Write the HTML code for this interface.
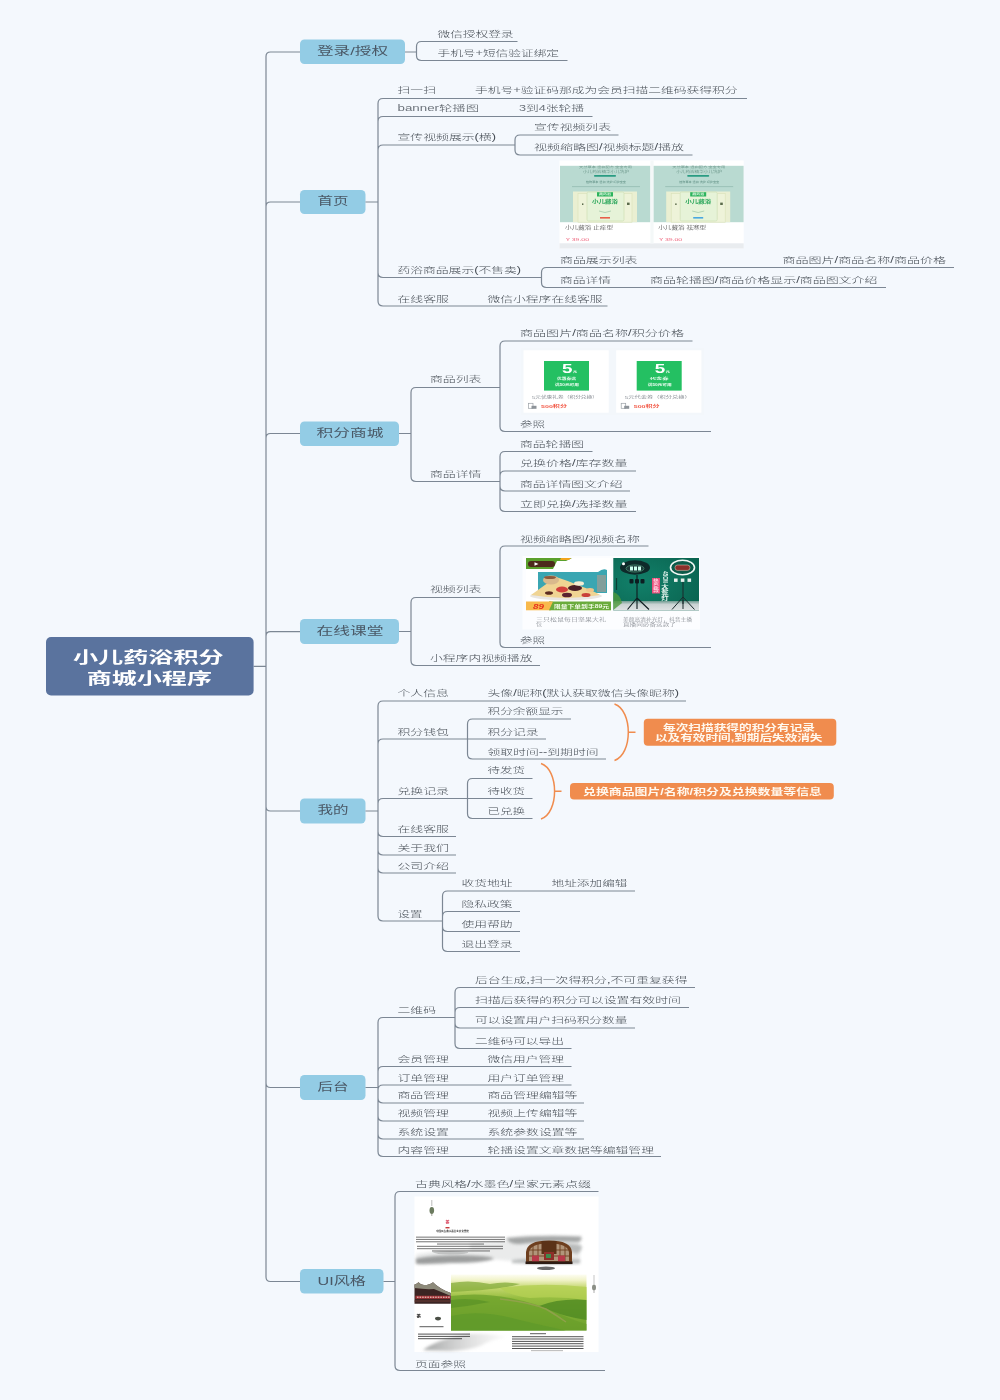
<!DOCTYPE html>
<html lang="zh-CN"><head><meta charset="utf-8"><title>小儿药浴积分商城小程序</title>
<style>
html,body{margin:0;padding:0;background:#f4f8fd;}
body{width:1000px;height:1400px;overflow:hidden;position:relative;}
svg{position:absolute;left:0;top:0;display:block;filter:blur(0.45px);}
text{font-family:"Liberation Sans","Noto Sans CJK SC",sans-serif;}
</style></head><body>
<svg width="1000" height="1400" viewBox="0 0 1000 1400">
<rect width="1000" height="1400" fill="#f4f8fd"/>
<path d="M253.6 666.3H266.0M266.0 666.3V56.5Q266.0 52.0 270.5 52.0H300.0M266.0 666.3V206.5Q266.0 202.0 270.5 202.0H300.0M266.0 666.3V438.0Q266.0 433.5 270.5 433.5H300.0M266.0 666.3V636.2Q266.0 631.7 270.5 631.7H300.0M266.0 666.3V806.5Q266.0 811.0 270.5 811.0H300.0M266.0 666.3V1083.0Q266.0 1087.5 270.5 1087.5H300.0M266.0 666.3V1277.0Q266.0 1281.5 270.5 1281.5H300.0" stroke="#7c8794" stroke-width="1.2" fill="none"/>
<rect x="46" y="637" width="207.6" height="58.5" rx="5" fill="#5a739e"/>
<text x="73.0" y="663.0" font-size="15.5" fill="#fff" font-weight="700" textLength="150.7" lengthAdjust="spacingAndGlyphs">小儿药浴积分</text>
<text x="86.7" y="683.8" font-size="15.5" fill="#fff" font-weight="700" textLength="125.3" lengthAdjust="spacingAndGlyphs">商城小程序</text>
<rect x="300" y="39.5" width="105" height="24.5" rx="4.5" fill="#93cce5"/>
<text x="317.0" y="55.0" font-size="11.2" fill="#4a5866" font-weight="400" textLength="71.0" lengthAdjust="spacingAndGlyphs">登录/授权</text>
<path d="M405.0 52.0H416.5M416.5 52.0V46.5Q416.5 41.5 421.5 41.5H517.5M416.5 52.0V55.5Q416.5 60.5 421.5 60.5H567.5" stroke="#7c8794" stroke-width="1.2" fill="none"/>
<text x="437.5" y="37.3" font-size="8.3" fill="#454c54" font-weight="300" textLength="76.0" lengthAdjust="spacingAndGlyphs">微信授权登录</text>
<text x="437.5" y="55.8" font-size="8.3" fill="#454c54" font-weight="300" textLength="121.5" lengthAdjust="spacingAndGlyphs">手机号<tspan fill="#6b727a">+</tspan>短信验证绑定</text>
<rect x="300" y="190" width="65.5" height="24" rx="4.5" fill="#93cce5"/>
<text x="317.5" y="205.3" font-size="11.2" fill="#4a5866" font-weight="400" textLength="31.0" lengthAdjust="spacingAndGlyphs">首页</text>
<path d="M365.5 202.0H378.0M378.0 202.0V103.5Q378.0 98.5 383.0 98.5H747.0M378.0 202.0V121.5Q378.0 116.5 383.0 116.5H592.5M378.0 202.0V150.0Q378.0 145.0 383.0 145.0H515.0M378.0 202.0V272.5Q378.0 277.5 383.0 277.5H541.5M378.0 202.0V301.0Q378.0 306.0 383.0 306.0H607.5" stroke="#7c8794" stroke-width="1.2" fill="none"/>
<text x="397.5" y="93.3" font-size="8.3" fill="#454c54" font-weight="300" textLength="38.5" lengthAdjust="spacingAndGlyphs">扫一扫</text>
<text x="475.0" y="93.3" font-size="8.3" fill="#454c54" font-weight="300" textLength="262.5" lengthAdjust="spacingAndGlyphs">手机号<tspan fill="#6b727a">+</tspan>验证码那成为会员扫描二维码获得积分</text>
<text x="397.5" y="111.3" font-size="8.3" fill="#454c54" font-weight="300" textLength="81.5" lengthAdjust="spacingAndGlyphs"><tspan fill="#6b727a">banner</tspan>轮播图</text>
<text x="519.0" y="111.3" font-size="8.3" fill="#454c54" font-weight="300" textLength="65.0" lengthAdjust="spacingAndGlyphs"><tspan fill="#6b727a">3</tspan>到<tspan fill="#6b727a">4</tspan>张轮播</text>
<text x="397.5" y="140.3" font-size="8.3" fill="#454c54" font-weight="300" textLength="98.5" lengthAdjust="spacingAndGlyphs">宣传视频展示(横)</text>
<path d="M515.0 145.0H515.0M515.0 145.0V140.0Q515.0 135.0 520.0 135.0H618.5M515.0 145.0V150.0Q515.0 155.0 520.0 155.0H692.5" stroke="#7c8794" stroke-width="1.2" fill="none"/>
<text x="534.0" y="129.8" font-size="8.3" fill="#454c54" font-weight="300" textLength="77.0" lengthAdjust="spacingAndGlyphs">宣传视频列表</text>
<text x="534.0" y="150.3" font-size="8.3" fill="#454c54" font-weight="300" textLength="150.0" lengthAdjust="spacingAndGlyphs">视频缩略图/视频标题/播放</text>
<text x="397.5" y="273.3" font-size="8.3" fill="#454c54" font-weight="300" textLength="123.5" lengthAdjust="spacingAndGlyphs">药浴商品展示(不售卖)</text>
<path d="M541.5 277.5H541.5M541.5 277.5V272.5Q541.5 267.5 546.5 267.5H954.0M541.5 277.5V282.5Q541.5 287.5 546.5 287.5H886.0" stroke="#7c8794" stroke-width="1.2" fill="none"/>
<text x="560.0" y="263.3" font-size="8.3" fill="#454c54" font-weight="300" textLength="77.5" lengthAdjust="spacingAndGlyphs">商品展示列表</text>
<text x="782.5" y="263.3" font-size="8.3" fill="#454c54" font-weight="300" textLength="163.5" lengthAdjust="spacingAndGlyphs">商品图片/商品名称/商品价格</text>
<text x="560.0" y="283.3" font-size="8.3" fill="#454c54" font-weight="300" textLength="51.0" lengthAdjust="spacingAndGlyphs">商品详情</text>
<text x="650.0" y="283.3" font-size="8.3" fill="#454c54" font-weight="300" textLength="227.5" lengthAdjust="spacingAndGlyphs">商品轮播图/商品价格显示/商品图文介绍</text>
<text x="397.5" y="301.8" font-size="8.3" fill="#454c54" font-weight="300" textLength="51.5" lengthAdjust="spacingAndGlyphs">在线客服</text>
<text x="487.5" y="301.8" font-size="8.3" fill="#454c54" font-weight="300" textLength="115.0" lengthAdjust="spacingAndGlyphs">微信小程序在线客服</text>
<rect x="300" y="421.5" width="99" height="24.5" rx="4.5" fill="#93cce5"/>
<text x="316.5" y="437.0" font-size="11.2" fill="#4a5866" font-weight="400" textLength="67.0" lengthAdjust="spacingAndGlyphs">积分商城</text>
<path d="M399.0 433.5H411.0M411.0 433.5V392.5Q411.0 387.5 416.0 387.5H500.0M411.0 433.5V476.5Q411.0 481.5 416.0 481.5H500.0" stroke="#7c8794" stroke-width="1.2" fill="none"/>
<text x="430.0" y="382.3" font-size="8.3" fill="#454c54" font-weight="300" textLength="51.5" lengthAdjust="spacingAndGlyphs">商品列表</text>
<path d="M500.0 387.5H500.0M500.0 387.5V346.0Q500.0 341.0 505.0 341.0H692.5M500.0 387.5V426.5Q500.0 431.5 505.0 431.5H711.0" stroke="#7c8794" stroke-width="1.2" fill="none"/>
<text x="520.0" y="335.8" font-size="8.3" fill="#454c54" font-weight="300" textLength="164.0" lengthAdjust="spacingAndGlyphs">商品图片/商品名称/积分价格</text>
<text x="520.0" y="427.3" font-size="8.3" fill="#454c54" font-weight="300" textLength="25.0" lengthAdjust="spacingAndGlyphs">参照</text>
<text x="430.0" y="476.8" font-size="8.3" fill="#454c54" font-weight="300" textLength="51.5" lengthAdjust="spacingAndGlyphs">商品详情</text>
<path d="M500.0 481.5H500.0M500.0 481.5V456.5Q500.0 451.5 505.0 451.5H592.5M500.0 481.5V476.0Q500.0 471.0 505.0 471.0H636.0M500.0 481.5V486.0Q500.0 491.0 505.0 491.0H630.0M500.0 481.5V506.5Q500.0 511.5 505.0 511.5H636.0" stroke="#7c8794" stroke-width="1.2" fill="none"/>
<text x="520.0" y="446.8" font-size="8.3" fill="#454c54" font-weight="300" textLength="64.0" lengthAdjust="spacingAndGlyphs">商品轮播图</text>
<text x="520.0" y="465.8" font-size="8.3" fill="#454c54" font-weight="300" textLength="107.5" lengthAdjust="spacingAndGlyphs">兑换价格/库存数量</text>
<text x="520.0" y="486.8" font-size="8.3" fill="#454c54" font-weight="300" textLength="102.5" lengthAdjust="spacingAndGlyphs">商品详情图文介绍</text>
<text x="520.0" y="506.8" font-size="8.3" fill="#454c54" font-weight="300" textLength="107.5" lengthAdjust="spacingAndGlyphs">立即兑换/选择数量</text>
<rect x="300" y="619" width="99" height="25" rx="4.5" fill="#93cce5"/>
<text x="316.5" y="634.8" font-size="11.2" fill="#4a5866" font-weight="400" textLength="67.0" lengthAdjust="spacingAndGlyphs">在线课堂</text>
<path d="M399.0 631.5H411.0M411.0 631.5V602.5Q411.0 597.5 416.0 597.5H500.0M411.0 631.5V660.5Q411.0 665.5 416.0 665.5H540.0" stroke="#7c8794" stroke-width="1.2" fill="none"/>
<text x="430.0" y="592.3" font-size="8.3" fill="#454c54" font-weight="300" textLength="51.5" lengthAdjust="spacingAndGlyphs">视频列表</text>
<path d="M500.0 597.5H500.0M500.0 597.5V551.0Q500.0 546.0 505.0 546.0H648.5M500.0 597.5V642.5Q500.0 647.5 505.0 647.5H711.0" stroke="#7c8794" stroke-width="1.2" fill="none"/>
<text x="520.0" y="541.8" font-size="8.3" fill="#454c54" font-weight="300" textLength="120.0" lengthAdjust="spacingAndGlyphs">视频缩略图/视频名称</text>
<text x="520.0" y="643.3" font-size="8.3" fill="#454c54" font-weight="300" textLength="25.0" lengthAdjust="spacingAndGlyphs">参照</text>
<text x="430.0" y="660.8" font-size="8.3" fill="#454c54" font-weight="300" textLength="102.5" lengthAdjust="spacingAndGlyphs">小程序内视频播放</text>
<rect x="300" y="798.5" width="65.5" height="25.0" rx="4.5" fill="#93cce5"/>
<text x="317.5" y="814.3" font-size="11.2" fill="#4a5866" font-weight="400" textLength="31.0" lengthAdjust="spacingAndGlyphs">我的</text>
<path d="M365.5 811.0H378.0M378.0 811.0V706.0Q378.0 701.0 383.0 701.0H686.0M378.0 811.0V744.0Q378.0 739.0 383.0 739.0H467.5M378.0 811.0V803.5Q378.0 798.5 383.0 798.5H467.5M378.0 811.0V831.5Q378.0 836.5 383.0 836.5H456.0M378.0 811.0V850.0Q378.0 855.0 383.0 855.0H456.0M378.0 811.0V868.0Q378.0 873.0 383.0 873.0H456.0M378.0 811.0V916.0Q378.0 921.0 383.0 921.0H442.5" stroke="#7c8794" stroke-width="1.2" fill="none"/>
<text x="397.5" y="695.8" font-size="8.3" fill="#454c54" font-weight="300" textLength="51.5" lengthAdjust="spacingAndGlyphs">个人信息</text>
<text x="487.5" y="695.8" font-size="8.3" fill="#454c54" font-weight="300" textLength="191.5" lengthAdjust="spacingAndGlyphs">头像/昵称(默认获取微信头像昵称)</text>
<text x="397.5" y="734.8" font-size="8.3" fill="#454c54" font-weight="300" textLength="51.5" lengthAdjust="spacingAndGlyphs">积分钱包</text>
<path d="M467.5 739.0H467.5M467.5 739.0V724.0Q467.5 719.0 472.5 719.0H571.0M467.5 739.0H546.0M467.5 739.0V754.0Q467.5 759.0 472.5 759.0H606.0" stroke="#7c8794" stroke-width="1.2" fill="none"/>
<text x="487.5" y="714.3" font-size="8.3" fill="#454c54" font-weight="300" textLength="76.0" lengthAdjust="spacingAndGlyphs">积分余额显示</text>
<text x="487.5" y="734.8" font-size="8.3" fill="#454c54" font-weight="300" textLength="51.0" lengthAdjust="spacingAndGlyphs">积分记录</text>
<text x="487.5" y="754.8" font-size="8.3" fill="#454c54" font-weight="300" textLength="111.0" lengthAdjust="spacingAndGlyphs">领取时间--到期时间</text>
<text x="397.5" y="793.8" font-size="8.3" fill="#454c54" font-weight="300" textLength="51.5" lengthAdjust="spacingAndGlyphs">兑换记录</text>
<path d="M467.5 798.5H467.5M467.5 798.5V783.5Q467.5 778.5 472.5 778.5H532.5M467.5 798.5H532.5M467.5 798.5V813.5Q467.5 818.5 472.5 818.5H532.5" stroke="#7c8794" stroke-width="1.2" fill="none"/>
<text x="487.5" y="773.3" font-size="8.3" fill="#454c54" font-weight="300" textLength="37.5" lengthAdjust="spacingAndGlyphs">待发货</text>
<text x="487.5" y="793.8" font-size="8.3" fill="#454c54" font-weight="300" textLength="37.5" lengthAdjust="spacingAndGlyphs">待收货</text>
<text x="487.5" y="814.3" font-size="8.3" fill="#454c54" font-weight="300" textLength="37.5" lengthAdjust="spacingAndGlyphs">已兑换</text>
<text x="397.5" y="832.3" font-size="8.3" fill="#454c54" font-weight="300" textLength="51.5" lengthAdjust="spacingAndGlyphs">在线客服</text>
<text x="397.5" y="850.8" font-size="8.3" fill="#454c54" font-weight="300" textLength="51.5" lengthAdjust="spacingAndGlyphs">关于我们</text>
<text x="397.5" y="868.8" font-size="8.3" fill="#454c54" font-weight="300" textLength="51.5" lengthAdjust="spacingAndGlyphs">公司介绍</text>
<text x="397.5" y="916.8" font-size="8.3" fill="#454c54" font-weight="300" textLength="25.0" lengthAdjust="spacingAndGlyphs">设置</text>
<path d="M442.5 921.0H442.5M442.5 921.0V896.0Q442.5 891.0 447.5 891.0H635.0M442.5 921.0V916.5Q442.5 911.5 447.5 911.5H520.0M442.5 921.0V926.5Q442.5 931.5 447.5 931.5H520.0M442.5 921.0V946.5Q442.5 951.5 447.5 951.5H520.0" stroke="#7c8794" stroke-width="1.2" fill="none"/>
<text x="461.5" y="886.3" font-size="8.3" fill="#454c54" font-weight="300" textLength="51.0" lengthAdjust="spacingAndGlyphs">收货地址</text>
<text x="551.5" y="886.3" font-size="8.3" fill="#454c54" font-weight="300" textLength="76.0" lengthAdjust="spacingAndGlyphs">地址添加编辑</text>
<text x="461.5" y="907.3" font-size="8.3" fill="#454c54" font-weight="300" textLength="51.0" lengthAdjust="spacingAndGlyphs">隐私政策</text>
<text x="461.5" y="927.3" font-size="8.3" fill="#454c54" font-weight="300" textLength="51.0" lengthAdjust="spacingAndGlyphs">使用帮助</text>
<text x="461.5" y="947.3" font-size="8.3" fill="#454c54" font-weight="300" textLength="51.0" lengthAdjust="spacingAndGlyphs">退出登录</text>
<path d="M614.5 704C632.9 710.2 632.9 754.3 614.5 760.5M628.3 732.25H635.5" stroke="#f08c4e" stroke-width="1.5" fill="none"/>
<rect x="643.8" y="718.8" width="192.5" height="27" rx="4" fill="#f08c4e"/>
<text x="663.0" y="730.7" font-size="9" fill="#fff8ee" font-weight="700" textLength="152.0" lengthAdjust="spacingAndGlyphs">每次扫描获得的积分有记录</text>
<text x="655.0" y="741.1" font-size="9" fill="#fff8ee" font-weight="700" textLength="167.5" lengthAdjust="spacingAndGlyphs">以及有效时间,到期后失效消失</text>
<path d="M541 763.5C559.1 769.6 559.1 812.9 541 819M554.6 791.25H561.5" stroke="#f08c4e" stroke-width="1.5" fill="none"/>
<rect x="570" y="783" width="263.8" height="16.5" rx="4" fill="#f08c4e"/>
<text x="583.0" y="794.8" font-size="9" fill="#fff8ee" font-weight="700" textLength="239.0" lengthAdjust="spacingAndGlyphs">兑换商品图片/名称/积分及兑换数量等信息</text>
<rect x="300" y="1075" width="65.5" height="25" rx="4.5" fill="#93cce5"/>
<text x="317.5" y="1090.8" font-size="11.2" fill="#4a5866" font-weight="400" textLength="31.0" lengthAdjust="spacingAndGlyphs">后台</text>
<path d="M365.5 1087.5H378.0M378.0 1087.5V1022.5Q378.0 1017.5 383.0 1017.5H455.0M378.0 1087.5V1071.5Q378.0 1066.5 383.0 1066.5H571.5M378.0 1087.5V1090.0Q378.0 1085.0 383.0 1085.0H571.5M378.0 1087.5V1098.0Q378.0 1103.0 383.0 1103.0H584.0M378.0 1087.5V1116.0Q378.0 1121.0 383.0 1121.0H584.0M378.0 1087.5V1134.0Q378.0 1139.0 383.0 1139.0H584.0M378.0 1087.5V1151.5Q378.0 1156.5 383.0 1156.5H661.0" stroke="#7c8794" stroke-width="1.2" fill="none"/>
<text x="397.5" y="1013.3" font-size="8.3" fill="#454c54" font-weight="300" textLength="38.5" lengthAdjust="spacingAndGlyphs">二维码</text>
<path d="M455.0 1017.5H455.0M455.0 1017.5V992.5Q455.0 987.5 460.0 987.5H695.0M455.0 1017.5V1012.5Q455.0 1007.5 460.0 1007.5H689.0M455.0 1017.5V1023.0Q455.0 1028.0 460.0 1028.0H635.0M455.0 1017.5V1043.5Q455.0 1048.5 460.0 1048.5H571.5" stroke="#7c8794" stroke-width="1.2" fill="none"/>
<text x="475.0" y="982.9" font-size="8.3" fill="#454c54" font-weight="300" textLength="212.5" lengthAdjust="spacingAndGlyphs">后台生成,扫一次得积分,不可重复获得</text>
<text x="475.0" y="1002.9" font-size="8.3" fill="#454c54" font-weight="300" textLength="206.0" lengthAdjust="spacingAndGlyphs">扫描后获得的积分可以设置有效时间</text>
<text x="475.0" y="1023.3" font-size="8.3" fill="#454c54" font-weight="300" textLength="152.5" lengthAdjust="spacingAndGlyphs">可以设置用户扫码积分数量</text>
<text x="475.0" y="1044.3" font-size="8.3" fill="#454c54" font-weight="300" textLength="89.0" lengthAdjust="spacingAndGlyphs">二维码可以导出</text>
<text x="397.5" y="1061.8" font-size="8.3" fill="#454c54" font-weight="300" textLength="51.5" lengthAdjust="spacingAndGlyphs">会员管理</text>
<text x="487.5" y="1061.8" font-size="8.3" fill="#454c54" font-weight="300" textLength="76.5" lengthAdjust="spacingAndGlyphs">微信用户管理</text>
<text x="397.5" y="1080.8" font-size="8.3" fill="#454c54" font-weight="300" textLength="51.5" lengthAdjust="spacingAndGlyphs">订单管理</text>
<text x="487.5" y="1080.8" font-size="8.3" fill="#454c54" font-weight="300" textLength="76.5" lengthAdjust="spacingAndGlyphs">用户订单管理</text>
<text x="397.5" y="1098.3" font-size="8.3" fill="#454c54" font-weight="300" textLength="51.5" lengthAdjust="spacingAndGlyphs">商品管理</text>
<text x="487.5" y="1098.3" font-size="8.3" fill="#454c54" font-weight="300" textLength="90.0" lengthAdjust="spacingAndGlyphs">商品管理编辑等</text>
<text x="397.5" y="1116.3" font-size="8.3" fill="#454c54" font-weight="300" textLength="51.5" lengthAdjust="spacingAndGlyphs">视频管理</text>
<text x="487.5" y="1116.3" font-size="8.3" fill="#454c54" font-weight="300" textLength="90.0" lengthAdjust="spacingAndGlyphs">视频上传编辑等</text>
<text x="397.5" y="1134.8" font-size="8.3" fill="#454c54" font-weight="300" textLength="51.5" lengthAdjust="spacingAndGlyphs">系统设置</text>
<text x="487.5" y="1134.8" font-size="8.3" fill="#454c54" font-weight="300" textLength="90.0" lengthAdjust="spacingAndGlyphs">系统参数设置等</text>
<text x="397.5" y="1152.8" font-size="8.3" fill="#454c54" font-weight="300" textLength="51.5" lengthAdjust="spacingAndGlyphs">内容管理</text>
<text x="487.5" y="1152.8" font-size="8.3" fill="#454c54" font-weight="300" textLength="166.5" lengthAdjust="spacingAndGlyphs">轮播设置文章数据等编辑管理</text>
<rect x="300" y="1269" width="83.5" height="24.5" rx="4.5" fill="#93cce5"/>
<text x="317.5" y="1284.5" font-size="11.2" fill="#4a5866" font-weight="400" textLength="48.5" lengthAdjust="spacingAndGlyphs">UI风格</text>
<path d="M383.5 1281.5H395.0M395.0 1281.5V1196.5Q395.0 1191.5 400.0 1191.5H598.5M395.0 1281.5V1365.5Q395.0 1370.5 400.0 1370.5H605.0" stroke="#7c8794" stroke-width="1.2" fill="none"/>
<text x="415.0" y="1186.8" font-size="8.3" fill="#454c54" font-weight="300" textLength="176.0" lengthAdjust="spacingAndGlyphs">古典风格/水墨色/皇家元素点缀</text>
<text x="415.0" y="1366.8" font-size="8.3" fill="#454c54" font-weight="300" textLength="51.0" lengthAdjust="spacingAndGlyphs">页面参照</text>
<g id="img1">
<rect x="559.5" y="160.5" width="184.2" height="88" fill="#fff"/>
<rect x="559.5" y="243.3" width="184.2" height="5.2" fill="#e9ecef"/>
<g transform="translate(0 0)">
<rect x="560" y="165.8" width="90.4" height="56.4" fill="#b9dad1"/>
<text x="579.0" y="167.9" font-size="2.4" fill="#6f9a8e" font-weight="400" textLength="53.0" lengthAdjust="spacingAndGlyphs">天然草本 温和配方 宝宝专用</text>
<text x="583.0" y="172.5" font-size="3.4" fill="#6f9a8e" font-weight="400" textLength="46.0" lengthAdjust="spacingAndGlyphs">小儿药浴精华小儿洗护</text>
<rect x="594" y="175" width="22" height="1.7" rx=".8" fill="#2a9c82"/>
<text x="586.0" y="182.5" font-size="2.8" fill="#5f8f84" font-weight="400" textLength="40.0" lengthAdjust="spacingAndGlyphs">植物草本 温和 洗护 呵护宝宝</text>
<path d="M572 186.6H640" stroke="#8fb9ad" stroke-width=".7"/>
<rect x="573" y="191.5" width="64" height="30.7" fill="#eaefd2"/>
<rect x="578" y="193.5" width="54" height="28.7" fill="#eef3d9" stroke="#d9e2b8" stroke-width=".6"/>
<rect x="587" y="192" width="37" height="29" rx="1.5" fill="#e6f3d8" stroke="#cfe0b6" stroke-width=".7"/>
<rect x="597" y="192.2" width="16" height="4.3" fill="#2bb35c"/>
<text x="599.0" y="195.3" font-size="2.6" fill="#e8f8e8" font-weight="700" textLength="12.0" lengthAdjust="spacingAndGlyphs">藏药浴</text>
<text x="592.0" y="202.5" font-size="4.3" fill="#2aa65a" font-weight="700" textLength="26.0" lengthAdjust="spacingAndGlyphs">小儿藏浴</text>
<path d="M599 211q6 3 12 0" stroke="#9fc6a6" stroke-width=".7" fill="none"/>
<rect x="600" y="217" width="10" height="1.6" fill="#e8604a"/>
<rect x="582" y="203.4" width="1.4" height="1.6" fill="#5b6b4b"/><rect x="627" y="202.6" width="2.6" height="2.4" fill="#5b6b4b"/>
<text x="565.0" y="228.6" font-size="4.4" fill="#666" font-weight="400" textLength="48.0" lengthAdjust="spacingAndGlyphs">小儿藏浴 止痒型</text>
<text x="566.0" y="241.4" font-size="4" fill="#ee5f78" font-weight="400" textLength="23.0" lengthAdjust="spacingAndGlyphs">¥ 39.00</text>
</g>
<g transform="translate(93.2 0)">
<rect x="560" y="165.8" width="90.4" height="56.4" fill="#b9dad1"/>
<text x="579.0" y="167.9" font-size="2.4" fill="#6f9a8e" font-weight="400" textLength="53.0" lengthAdjust="spacingAndGlyphs">天然草本 温和配方 宝宝专用</text>
<text x="583.0" y="172.5" font-size="3.4" fill="#6f9a8e" font-weight="400" textLength="46.0" lengthAdjust="spacingAndGlyphs">小儿药浴精华小儿洗护</text>
<rect x="594" y="175" width="22" height="1.7" rx=".8" fill="#2a9c82"/>
<text x="586.0" y="182.5" font-size="2.8" fill="#5f8f84" font-weight="400" textLength="40.0" lengthAdjust="spacingAndGlyphs">植物草本 温和 洗护 呵护宝宝</text>
<path d="M572 186.6H640" stroke="#8fb9ad" stroke-width=".7"/>
<rect x="573" y="191.5" width="64" height="30.7" fill="#eaefd2"/>
<rect x="578" y="193.5" width="54" height="28.7" fill="#eef3d9" stroke="#d9e2b8" stroke-width=".6"/>
<rect x="587" y="192" width="37" height="29" rx="1.5" fill="#e6f3d8" stroke="#cfe0b6" stroke-width=".7"/>
<rect x="597" y="192.2" width="16" height="4.3" fill="#2bb35c"/>
<text x="599.0" y="195.3" font-size="2.6" fill="#e8f8e8" font-weight="700" textLength="12.0" lengthAdjust="spacingAndGlyphs">藏药浴</text>
<text x="592.0" y="202.5" font-size="4.3" fill="#2aa65a" font-weight="700" textLength="26.0" lengthAdjust="spacingAndGlyphs">小儿藏浴</text>
<path d="M599 211q6 3 12 0" stroke="#9fc6a6" stroke-width=".7" fill="none"/>
<rect x="600" y="217" width="10" height="1.6" fill="#4aa8e0"/>
<rect x="582" y="203.4" width="1.4" height="1.6" fill="#5b6b4b"/><rect x="627" y="202.6" width="2.6" height="2.4" fill="#5b6b4b"/>
<text x="565.0" y="228.6" font-size="4.4" fill="#666" font-weight="400" textLength="48.0" lengthAdjust="spacingAndGlyphs">小儿藏浴 祛寒型</text>
<text x="566.0" y="241.4" font-size="4" fill="#ee5f78" font-weight="400" textLength="23.0" lengthAdjust="spacingAndGlyphs">¥ 39.00</text>
</g>
<rect x="650.4" y="160.5" width="3.2" height="83" fill="#f4f8f8"/>
</g>
<g id="img2">
<rect x="521" y="348" width="183" height="67" fill="#f3f7fb"/>
<g transform="translate(0 0)">
<rect x="523.5" y="350.3" width="85.2" height="62.4" fill="#fff"/>
<rect x="544" y="361" width="45" height="29.6" fill="#24c062"/>
<text x="562" y="373" font-size="12" font-weight="700" fill="#fff" textLength="10.5" lengthAdjust="spacingAndGlyphs">5</text>
<text x="573.0" y="373.4" font-size="3" fill="#fff" font-weight="700" textLength="4.0" lengthAdjust="spacingAndGlyphs">元</text>
<text x="557.0" y="379.7" font-size="3.4" fill="#e9fbef" font-weight="700" textLength="19.0" lengthAdjust="spacingAndGlyphs">优惠券满</text>
<text x="555.0" y="385.7" font-size="3.4" fill="#e9fbef" font-weight="700" textLength="24.0" lengthAdjust="spacingAndGlyphs">满50元可用</text>
<text x="532.0" y="398.9" font-size="4" fill="#8a8f96" font-weight="400" textLength="66.0" lengthAdjust="spacingAndGlyphs">5元优惠礼券（积分兑换）</text>
<rect x="528.5" y="403.3" width="4.5" height="5" fill="none" stroke="#9aa0a6" stroke-width=".7"/><rect x="531.5" y="405.8" width="5" height="3" fill="#8d9399"/>
<text x="541.0" y="408.0" font-size="4" fill="#f25a48" font-weight="700" textLength="26.0" lengthAdjust="spacingAndGlyphs">500积分</text>
</g>
<g transform="translate(92.7 0)">
<rect x="523.5" y="350.3" width="85.2" height="62.4" fill="#fff"/>
<rect x="544" y="361" width="45" height="29.6" fill="#24c062"/>
<text x="562" y="373" font-size="12" font-weight="700" fill="#fff" textLength="10.5" lengthAdjust="spacingAndGlyphs">5</text>
<text x="573.0" y="373.4" font-size="3" fill="#fff" font-weight="700" textLength="4.0" lengthAdjust="spacingAndGlyphs">元</text>
<text x="557.0" y="379.7" font-size="3.4" fill="#e9fbef" font-weight="700" textLength="19.0" lengthAdjust="spacingAndGlyphs">代金券</text>
<text x="555.0" y="385.7" font-size="3.4" fill="#e9fbef" font-weight="700" textLength="24.0" lengthAdjust="spacingAndGlyphs">满50元可用</text>
<text x="532.0" y="398.9" font-size="4" fill="#8a8f96" font-weight="400" textLength="66.0" lengthAdjust="spacingAndGlyphs">5元代金券（积分兑换）</text>
<rect x="528.5" y="403.3" width="4.5" height="5" fill="none" stroke="#9aa0a6" stroke-width=".7"/><rect x="531.5" y="405.8" width="5" height="3" fill="#8d9399"/>
<text x="541.0" y="408.0" font-size="4" fill="#f25a48" font-weight="700" textLength="26.0" lengthAdjust="spacingAndGlyphs">500积分</text>
</g>
</g>
<g id="img3">
<rect x="522.5" y="556" width="177.5" height="73.5" fill="#fcfdff"/>
<rect x="526" y="558" width="85" height="52.5" fill="#fff"/>
<path d="M526 558H572L566 561H557L553 569H526Z" fill="#5aa02c"/><path d="M561 558H571L569 560H560Z" fill="#f2a51e"/>
<rect x="528" y="561" width="27" height="6" rx="3" fill="#4d2a1c"/><path d="M534.5 562.3L538.5 564L534.5 565.7Z" fill="#fff"/>
<path d="M538 572H598Q603 568 607 570V593H538Z" fill="#3aa6b2"/>
<rect x="597" y="575" width="9" height="17" fill="#8f9d98" opacity=".85"/>
<ellipse cx="566" cy="596" rx="36" ry="4.2" fill="#e9e6e2"/>
<path d="M531 595Q545 585 556 577Q566 580 580 586Q592 590 600 595Q566 601 531 595Z" fill="#f0d493"/>
<ellipse cx="551" cy="580" rx="8" ry="4.5" fill="#d9b98c"/><ellipse cx="550" cy="577.5" rx="6" ry="1.6" fill="#8e5a3c"/>
<ellipse cx="562" cy="589.5" rx="6" ry="3" fill="#d2403c"/><ellipse cx="575" cy="588" rx="7" ry="3" fill="#4a1e27"/><ellipse cx="567" cy="595" rx="5" ry="2.3" fill="#5a2230"/><ellipse cx="586" cy="595" rx="4.5" ry="2" fill="#c8403a"/><ellipse cx="549" cy="593" rx="4" ry="1.8" fill="#5b2a20"/><ellipse cx="579" cy="583.5" rx="5" ry="2.2" fill="#f6ecd2"/><ellipse cx="590" cy="590" rx="4" ry="2" fill="#f1c58a"/>
<rect x="526" y="601.5" width="25" height="8.8" fill="#f8b94c"/><rect x="549" y="601.5" width="62" height="8.8" fill="#6aab3c"/>
<path d="M549 601.5H553L549 610.3Z" fill="#f8b94c"/>
<text x="533.0" y="608.5" font-size="7" fill="#e8311e" font-weight="700" textLength="11.0" lengthAdjust="spacingAndGlyphs" font-style="italic">89</text>
<text x="554.0" y="607.8" font-size="5" fill="#f3fbe8" font-weight="700" textLength="55.0" lengthAdjust="spacingAndGlyphs">限量下单到手89元</text>
<text x="536.0" y="620.5" font-size="4.2" fill="#9a9ea4" font-weight="400" textLength="70.0" lengthAdjust="spacingAndGlyphs">三只松鼠每日坚果大礼</text>
<text x="536.0" y="626.0" font-size="4.2" fill="#9a9ea4" font-weight="400" textLength="6.0" lengthAdjust="spacingAndGlyphs">包</text>
<defs><linearGradient id="gfl" x1="0" y1="0" x2="0" y2="1"><stop offset="0" stop-color="#6f9a90"/><stop offset=".35" stop-color="#c9d2d2"/><stop offset="1" stop-color="#dfe3e4"/></linearGradient><radialGradient id="ggr" cx=".3" cy=".45" r=".8"><stop offset="0" stop-color="#12806a"/><stop offset="1" stop-color="#0a6450"/></radialGradient></defs>
<rect x="613.3" y="558" width="85.7" height="52.5" fill="url(#ggr)"/>
<rect x="613.3" y="601" width="85.7" height="9.5" fill="url(#gfl)"/>
<path d="M613.3 592Q620 594 622 603L613.3 610Z" fill="#4f9a3c" opacity=".8"/>
<ellipse cx="635" cy="567.5" rx="15" ry="7.2" fill="#0e2a2a"/><ellipse cx="635" cy="568.5" rx="9" ry="3.6" fill="#1d3b3a" stroke="#7da" stroke-width=".4"/><circle cx="623.5" cy="563.8" r="1.5" fill="#fff"/>
<rect x="630" y="566.5" width="3" height="4" fill="#cfe"/><rect x="634" y="566.5" width="3" height="4" fill="#cfe"/><rect x="638" y="566.5" width="3" height="4" fill="#cfe"/>
<rect x="629.5" y="579" width="4" height="4.6" rx="1" fill="#0c1f22"/><rect x="635" y="579" width="4" height="4.6" rx="1" fill="#0c1f22"/><rect x="640.5" y="579" width="4" height="4.6" rx="1" fill="#0c1f22"/>
<path d="M637 575V604M637 598L627.5 609.5M637 598L649 609.5M637 600V609" stroke="#101c20" stroke-width="1.1" fill="none"/>
<path d="M616.5 578V590" stroke="#0b3f35" stroke-width="1.2"/>
<rect x="652" y="578" width="8" height="15.5" fill="#e8507c"/>
<text x="653.2" y="581.6" font-size="3.4" fill="#ffdbe6" font-weight="700" textLength="5.6" lengthAdjust="spacingAndGlyphs">热</text>
<text x="653.2" y="585.2" font-size="3.4" fill="#ffdbe6" font-weight="700" textLength="5.6" lengthAdjust="spacingAndGlyphs">卖</text>
<text x="653.2" y="588.8" font-size="3.4" fill="#ffdbe6" font-weight="700" textLength="5.6" lengthAdjust="spacingAndGlyphs">新</text>
<text x="653.2" y="592.4" font-size="3.4" fill="#ffdbe6" font-weight="700" textLength="5.6" lengthAdjust="spacingAndGlyphs">款</text>
<text font-size="6.4" fill="#e6f5ef" font-weight="700" transform="translate(662.6 571.3) rotate(90)" textLength="11.6" lengthAdjust="spacingAndGlyphs">45CM</text>
<text x="661.3" y="587.5" font-size="4.6" fill="#e6f5ef" font-weight="700" textLength="7.4" lengthAdjust="spacingAndGlyphs">大</text>
<text x="661.3" y="591.8" font-size="4.6" fill="#e6f5ef" font-weight="700" textLength="7.4" lengthAdjust="spacingAndGlyphs">补</text>
<text x="661.3" y="596.0" font-size="4.6" fill="#e6f5ef" font-weight="700" textLength="7.4" lengthAdjust="spacingAndGlyphs">光</text>
<text x="661.3" y="600.2" font-size="4.6" fill="#e6f5ef" font-weight="700" textLength="7.4" lengthAdjust="spacingAndGlyphs">灯</text>
<ellipse cx="682.5" cy="567.5" rx="12" ry="7.3" fill="#0c5a49" stroke="#f2f8f4" stroke-width="1.6"/><rect x="675" y="565" width="15" height="5.4" rx="2.6" fill="#8a2f2a" stroke="#e8d9c8" stroke-width=".5"/>
<rect x="674" y="578.5" width="3.6" height="3.4" fill="#e8f0ec"/><rect x="680.8" y="578.5" width="3.6" height="3.4" fill="#e8f0ec"/><rect x="687.5" y="578.5" width="3.6" height="3.4" fill="#e8f0ec"/>
<path d="M683 582V604M683 597L672 609.5M683 597L694.5 609.5M683 600V609" stroke="#1b2b2d" stroke-width="1" fill="none"/>
<text x="623.0" y="620.5" font-size="4.2" fill="#9a9ea4" font-weight="400" textLength="69.0" lengthAdjust="spacingAndGlyphs">美颜高清补光灯，抖音主播</text>
<text x="623.0" y="626.0" font-size="4.2" fill="#9a9ea4" font-weight="400" textLength="53.0" lengthAdjust="spacingAndGlyphs">直播间必备这款了</text>
</g>
<g id="img4">
<defs>
<linearGradient id="land" x1="0" y1="0" x2="0" y2="1"><stop offset="0" stop-color="#fdfdf2"/><stop offset=".1" stop-color="#f1f3c9"/><stop offset=".24" stop-color="#c3d66c"/><stop offset=".42" stop-color="#96bd40"/><stop offset=".7" stop-color="#7fae34"/><stop offset="1" stop-color="#6b9f2c"/></linearGradient>
<linearGradient id="ink1" x1="0" y1="0" x2="1" y2="0"><stop offset="0" stop-color="#c9c9c9" stop-opacity=".15"/><stop offset=".45" stop-color="#9b9d9d" stop-opacity=".55"/><stop offset="1" stop-color="#b5b7b7" stop-opacity=".75"/></linearGradient>
<linearGradient id="ink2" x1="0" y1="0" x2="1" y2="0"><stop offset="0" stop-color="#8d8f8f" stop-opacity=".8"/><stop offset="1" stop-color="#c9c9c9" stop-opacity=".1"/></linearGradient>
<filter id="b1" x="-10%" y="-30%" width="120%" height="160%"><feGaussianBlur stdDeviation="1.6"/></filter>
<filter id="b2"><feGaussianBlur stdDeviation=".7"/></filter>
</defs>
<rect x="414.5" y="1196.5" width="184" height="155.5" fill="#fff"/>
<path d="M431.8 1200V1206" stroke="#777" stroke-width=".5"/><ellipse cx="431.8" cy="1210.5" rx="2.3" ry="3.4" fill="#6b7a5e"/><path d="M431.8 1214V1216" stroke="#665" stroke-width=".6"/>
<text x="445.5" y="1223.9" font-size="4" fill="#d8405a" font-weight="700" textLength="4.0" lengthAdjust="spacingAndGlyphs">茶</text>
<rect x="445.5" y="1227" width="4" height="1.4" fill="#c43a3a"/>
<text x="436.0" y="1232.1" font-size="2.6" fill="#333" font-weight="700" textLength="33.0" lengthAdjust="spacingAndGlyphs">中国风古典水墨企业文化宣传</text>
<path d="M470 1243Q520 1238 580 1240V1262Q540 1264 500 1260Q470 1256 440 1260L416 1262V1254Q440 1250 470 1250Z" fill="#d9dbdb" opacity=".55" filter="url(#b1)"/>
<path d="M506 1238Q540 1234.5 581 1236.5Q583 1240 578 1242Q545 1241 520 1244Q508 1244 506 1238Z" fill="#8f9292" opacity=".8" filter="url(#b1)"/>
<path d="M560 1244Q575 1243 582 1246Q582 1252 576 1254Q568 1250 560 1244Z" fill="#a5a8a8" opacity=".7" filter="url(#b1)"/>
<path d="M416 1258.5Q440 1254.5 470 1255.5Q492 1256 494 1259Q480 1263.5 450 1263Q430 1264.5 416 1264Z" fill="#8c8e8e" opacity=".85" filter="url(#b1)"/>
<path d="M432 1252Q450 1250 468 1252Q470 1254 450 1254.5Q436 1254.5 432 1252Z" fill="#a9abab" opacity=".6" filter="url(#b2)"/>
<path d="M512 1260Q540 1257.5 580 1259.5V1263.5Q545 1265 512 1263Z" fill="#a9acac" opacity=".75" filter="url(#b1)"/>
<rect x="416" y="1236.6" width="89" height="1.1" fill="#333" opacity=".62"/>
<rect x="416" y="1238.9" width="89" height="1.1" fill="#333" opacity=".62"/>
<rect x="416" y="1241.2" width="89" height="1.1" fill="#333" opacity=".62"/>
<rect x="437" y="1243.5" width="47" height="1.1" fill="#333" opacity=".62"/>
<rect x="417" y="1245.8" width="86" height="1.1" fill="#333" opacity=".62"/>
<rect x="417" y="1248.1" width="86" height="1.1" fill="#333" opacity=".62"/>
<rect x="432" y="1250.4" width="58" height="1.1" fill="#333" opacity=".62"/>
<path d="M526 1262.5V1252Q527 1240.5 549 1240.5Q571 1240.5 572 1252V1262.5Z" fill="#6e3f1f"/>
<path d="M529 1261V1252.5Q530 1243.5 549 1243.5Q568 1243.5 569 1252.5V1261Z" fill="#e9dcc4" opacity=".55"/>
<path d="M533 1245V1262M538 1243V1262M560 1243V1262M565 1245V1262M527 1250H571M527 1256H571" stroke="#6e3f1f" stroke-width=".9"/>
<rect x="541.5" y="1241" width="15" height="13" fill="#5b3218"/><rect x="544" y="1252" width="10" height="8" fill="#8e2f2a"/>
<rect x="532" y="1255.5" width="7" height="6" fill="#b83a4a"/><rect x="558" y="1255.5" width="7" height="6" fill="#b83a4a"/><rect x="546" y="1254" width="5" height="4" fill="#3f8a4c"/>
<rect x="525.5" y="1261.5" width="47" height="2.6" fill="#2e1d14"/>
<ellipse cx="546" cy="1268.2" rx="9" ry="1.7" fill="#444" opacity=".8" filter="url(#b2)"/>
<rect x="451" y="1274.5" width="135.5" height="56" fill="url(#land)"/>
<path d="M451 1283Q470 1279.5 490 1284Q505 1281 520 1284Q500 1290 451 1292Z" fill="#86ad3c" opacity=".75" filter="url(#b2)"/>
<path d="M500 1288Q540 1282 586.5 1287V1300Q560 1296 530 1298Q510 1296 500 1288Z" fill="#b4d053" opacity=".8" filter="url(#b2)"/>
<path d="M451 1296Q480 1292 510 1298Q535 1303 556 1312Q572 1320 586.5 1324V1330.5H451Z" fill="#6a9f2c" opacity=".7" filter="url(#b2)"/>
<path d="M539 1306Q560 1298 586.5 1300V1320Q566 1317 552 1311Z" fill="#4f8a24" opacity=".8" filter="url(#b2)"/>
<path d="M500 1299Q530 1302 546 1309Q556 1315 566 1322" stroke="#9aa054" stroke-width="1.5" fill="none" opacity=".75"/>
<path d="M451 1316Q480 1309 520 1320Q545 1326 566 1330.5H451Z" fill="#5f9a2a" opacity=".75" filter="url(#b2)"/>
<path d="M451 1300Q470 1297 490 1302Q470 1306 451 1308Z" fill="#4f8a24" opacity=".5" filter="url(#b2)"/>
<path d="M414.5 1303.8V1284.5Q416.5 1284 418.5 1282.2Q420.5 1284.8 424 1285Q430 1285 433 1282.2Q436 1285.5 441 1288.5Q446 1291.5 450.8 1293V1303.8Z" fill="#3b2423"/>
<path d="M414.5 1288Q424 1289.5 434 1289Q444 1293 450.8 1296V1293Q446 1291.5 441 1288.5Q436 1285.5 433 1282.2Q430 1285 424 1285Q420.5 1284.8 418.5 1282.2Q416.5 1284 414.5 1284.5Z" fill="#8d8a7a"/>
<path d="M415.5 1297.2H450.5" stroke="#a8343a" stroke-width="3"/><path d="M417 1297.2H450" stroke="#efe3d6" stroke-width="1" stroke-dasharray="1.5 1.1"/>
<path d="M414.5 1301H450.8" stroke="#6a3a34" stroke-width="1"/>
<text x="416.5" y="1317.9" font-size="4" fill="#222" font-weight="700" textLength="4.5" lengthAdjust="spacingAndGlyphs">茶</text>
<ellipse cx="438" cy="1318.6" rx="3" ry="1.8" fill="#4a4f45"/>
<rect x="419.5" y="1326.2" width="24" height="1" fill="#333" opacity=".8"/>
<path d="M423 1350Q440 1338 470 1334Q490 1333 505 1337Q490 1340 480 1346Q470 1350 450 1351Z" fill="url(#ink2)" filter="url(#b1)"/>
<rect x="418" y="1333.6" width="52" height="1" fill="#2a2a2a" opacity=".8"/>
<rect x="418" y="1335.9" width="52" height="1" fill="#2a2a2a" opacity=".8"/>
<rect x="418" y="1338.2" width="44" height="1" fill="#2a2a2a" opacity=".8"/>
<rect x="530" y="1333.2" width="16" height="1" fill="#333" opacity=".8"/>
<rect x="512" y="1336.2" width="71.5" height="1" fill="#2a2a2a" opacity=".8"/>
<rect x="512" y="1338.5" width="71.5" height="1" fill="#2a2a2a" opacity=".8"/>
<rect x="512" y="1340.9" width="71.5" height="1" fill="#2a2a2a" opacity=".8"/>
<rect x="512" y="1343.2" width="71.5" height="1" fill="#2a2a2a" opacity=".8"/>
<rect x="512" y="1345.6" width="71.5" height="1" fill="#2a2a2a" opacity=".8"/>
<rect x="512" y="1348.0" width="71.5" height="1" fill="#2a2a2a" opacity=".8"/>
<rect x="531" y="1350.4" width="32" height=".7" fill="#555" opacity=".6"/>
<path d="M594 1275V1284" stroke="#888" stroke-width=".5"/><ellipse cx="594" cy="1287.5" rx="2" ry="3" fill="#8b8f86"/><path d="M594 1290.5V1293" stroke="#777" stroke-width=".6"/>
</g>
</svg>
</body></html>
